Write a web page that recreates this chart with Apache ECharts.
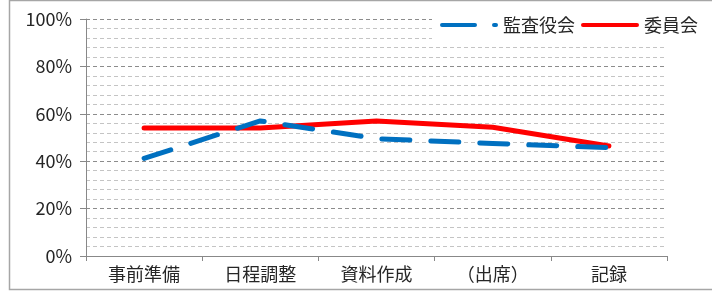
<!DOCTYPE html>
<html><head><meta charset="utf-8">
<script src="https://cdn.jsdelivr.net/npm/echarts@6/dist/echarts.min.js"></script>
<style>html,body{margin:0;padding:0;background:#fff}#c{width:712px;height:292px}</style>
</head><body><div id="c"></div>
<script>
const categories = ['事前準備', '日程調整', '資料作成', '（出席）', '記録'];
const auditBoard = [41.2, 57, 49.5, 47.5, 45.7];
const committee = [54, 54, 57, 54.3, 46.4];
const seriesNames = ['監査役会', '委員会'];

const font = '"Noto Sans CJK JP", "Noto Sans", sans-serif';
const chart = echarts.init(document.getElementById('c'), null, {renderer: 'canvas'});
chart.setOption({
  animation: false,
  backgroundColor: '#fff',
  graphic: [{
    type: 'rect', shape: {x: 9.5, y: 0.5, width: 760, height: 289}, silent: true, z: -10,
    style: {fill: 'none', stroke: '#a6a6a6', lineWidth: 1.5}
  }],
  grid: {left: 86, right: 45, top: 19, bottom: 36},
  legend: {
    left: 432, top: 9, padding: [7, 8, 7, 8], backgroundColor: '#fff', itemGap: 6,
    itemWidth: 58, itemHeight: 5,
    textStyle: {fontFamily: font, fontSize: 18, color: '#262626'},
    data: [
      {name: seriesNames[0], icon: 'path://M2,0 H35 A2,2 0 0 1 35,4 H2 A2,2 0 0 1 2,0 Z M54,0 H56 A2,2 0 0 1 56,4 H54 A2,2 0 0 1 54,0 Z', itemStyle: {color: '#0070C0'}},
      {name: seriesNames[1], icon: 'path://M2,0 H56 A2,2 0 0 1 56,4 H2 A2,2 0 0 1 2,0 Z', itemStyle: {color: '#FF0000'}}
    ]
  },
  xAxis: {
    type: 'category', data: categories, boundaryGap: true,
    axisLine: {lineStyle: {color: '#888', width: 1}},
    axisTick: {show: true, length: 5, lineStyle: {color: '#888'}},
    axisLabel: {fontFamily: font, fontSize: 18, color: '#262626', margin: 9}
  },
  yAxis: {
    type: 'value', min: 0, max: 100, interval: 20,
    axisLine: {show: true, lineStyle: {color: '#888', width: 1}},
    axisTick: {show: true, length: 6, lineStyle: {color: '#888'}},
    axisLabel: {formatter: '{value}%', fontFamily: font, fontSize: 18, color: '#262626', margin: 14},
    splitLine: {show: true, lineStyle: {color: '#8c8c8c', type: [4, 3], width: 1}},
    minorTick: {show: false, splitNumber: 5},
    minorSplitLine: {show: true, lineStyle: {color: '#c4c4c4', type: [4, 3], width: 1}}
  },
  series: [
    {name: seriesNames[0], type: 'line', data: auditBoard, showSymbol: false, symbol: 'none', z: 3,
     itemStyle: {color: '#0070C0'},
     lineStyle: {color: '#0070C0', width: 5, type: [28, 21], cap: 'round', join: 'round'}},
    {name: seriesNames[1], type: 'line', data: committee, showSymbol: false, symbol: 'none', z: 2,
     itemStyle: {color: '#FF0000'},
     lineStyle: {color: '#FF0000', width: 5, type: 'solid', cap: 'round', join: 'round'}}
  ]
});
</script></body></html>
